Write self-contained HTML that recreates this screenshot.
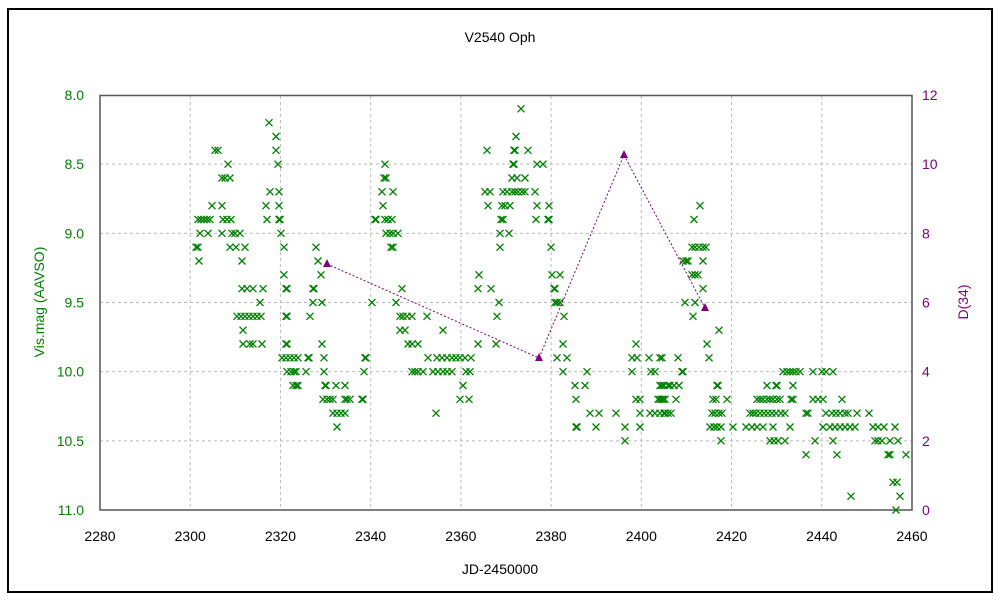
<!DOCTYPE html>
<html><head><meta charset="utf-8"><style>
html,body{margin:0;padding:0;background:#fff;}
svg{display:block;font-family:"Liberation Sans",sans-serif;}
</style></head><body>
<svg id="s" width="1000" height="600" xmlns="http://www.w3.org/2000/svg">
<rect x="0" y="0" width="1000" height="600" fill="#fff"/>
<rect x="8" y="9" width="984" height="583" fill="none" stroke="#000" stroke-width="2"/>
<g id="grid" stroke="#bbb" stroke-dasharray="3,3" stroke-width="1"></g>
<rect x="100" y="95.5" width="812" height="414.5" fill="none" stroke="#555" stroke-width="1.5"/>
<g id="ticks" font-size="14"></g>
<text x="500" y="42" font-size="14" text-anchor="middle">V2540 Oph</text>
<text x="500" y="574" font-size="14" text-anchor="middle">JD-2450000</text>
<text transform="translate(44,302) rotate(-90)" font-size="14" fill="#008000" text-anchor="middle">Vis.mag (AAVSO)</text>
<text transform="translate(968,302) rotate(-90)" font-size="14" fill="#800080" text-anchor="middle">D(34)</text>
<g id="pts" stroke="#008000" stroke-width="1.3" fill="none"></g>
<polyline points="327,264 539,358 624,155 705,308" fill="none" stroke="#800080" stroke-width="1" stroke-dasharray="2,2"/>
<g id="tri" fill="#800080"></g>
</svg>
<script>
var NS="http://www.w3.org/2000/svg";
function el(p,t,a,txt){var e=document.createElementNS(NS,t);for(var k in a)e.setAttribute(k,a[k]);if(txt!==undefined)e.textContent=txt;document.getElementById(p).appendChild(e);}
function Y(m){return 95+(m-8)*138.33;}
for(var i=1;i<9;i++){var x=100+i*90.22;el("grid","line",{x1:x,y1:96,x2:x,y2:510});}
for(var m=8.5;m<11;m+=0.5){el("grid","line",{x1:100,y1:Y(m),x2:912,y2:Y(m)});}
for(var i=0;i<=9;i++){var x=100+i*90.22;el("ticks","text",{x:x,y:541,"text-anchor":"middle",fill:"#000"},String(2280+i*20));}
for(var i=0;i<=6;i++){var m=8+i*0.5;el("ticks","text",{x:84,y:Y(m)+5,"text-anchor":"end",fill:"#008000"},m.toFixed(1));}
for(var i=0;i<=6;i++){var y=510-i*2*34.58;el("ticks","text",{x:922,y:y+5,"text-anchor":"start",fill:"#800080"},String(i*2));}
var D={
8.1:[521],8.2:[269],8.3:[276,516],8.4:[276,215,218,487,514,515,528],
8.5:[228,278,385,513,514,537,543],8.6:[222,225,230,384,386,512,517,525],
8.7:[270,279,382,393,485,490,503,507,512,515,518,522,525,535],
8.8:[212,222,266,279,383,488,502,505,510,537,549,700],
8.9:[198,201,204,207,210,223,227,231,267,279,280,376,375,385,388,392,501,503,536,548,549,694],
9.0:[200,208,222,232,235,240,281,386,390,393,398,500,509],
9.1:[196,198,230,236,245,284,316,391,393,500,551,692,695,699,703,706],
9.2:[199,242,318,683,686,688,703],
9.3:[284,321,479,552,560,692,695,698],
9.4:[242,247,253,263,286,287,313,314,402,478,491,554,555,703],
9.5:[260,313,322,372,396,499,555,557,560,685,695],
9.6:[237,241,245,249,253,257,261,286,287,310,400,403,407,412,427,497,564,693],
9.7:[243,400,405,443,719],
9.8:[243,250,253,262,286,287,322,408,412,418,478,496,563,636,707],
9.9:[282,286,290,294,298,308,309,324,365,366,428,437,442,447,452,456,460,465,471,557,567,632,637,649,660,662,678,709],
10.0:[287,291,294,296,306,324,364,412,415,418,423,433,438,443,447,452,466,470,563,587,632,651,655,682,683,783,787,790,793,796,800,813,822,826,833],
10.1:[293,296,298,325,326,336,345,463,575,585,662,668,660,664,670,674,679,717,718,767,776,777,793],
10.2:[323,327,330,333,345,347,350,362,363,460,469,576,636,640,658,662,665,660,663,676,713,716,727,757,760,763,767,770,773,777,780,791,793,813,818,823,842],
10.3:[333,337,341,345,436,590,599,616,640,650,655,660,665,664,668,671,712,715,719,722,750,753,756,760,764,768,772,776,781,785,806,808,826,832,836,840,845,848,857,869],
10.4:[337,576,577,596,625,640,710,714,717,721,733,746,752,757,763,773,790,823,830,835,840,845,850,855,873,878,884,895],
10.5:[625,721,770,774,778,785,815,833,875,878,882,890,898],
10.6:[806,837,888,890,906],10.8:[893,897],10.9:[851,900],11.0:[896]};
for(var k in D){var y=Y(parseFloat(k));D[k].forEach(function(x){el("pts","path",{d:"M"+(x-3.5)+" "+(y-3.5)+"L"+(x+3.5)+" "+(y+3.5)+"M"+(x+3.5)+" "+(y-3.5)+"L"+(x-3.5)+" "+(y+3.5)});});}
[[327,264],[539,358],[624,155],[705,308]].forEach(function(p){el("tri","path",{d:"M"+p[0]+" "+(p[1]-5)+"L"+(p[0]+4)+" "+(p[1]+3)+"L"+(p[0]-4)+" "+(p[1]+3)+"Z"});});
</script>
</body></html>
